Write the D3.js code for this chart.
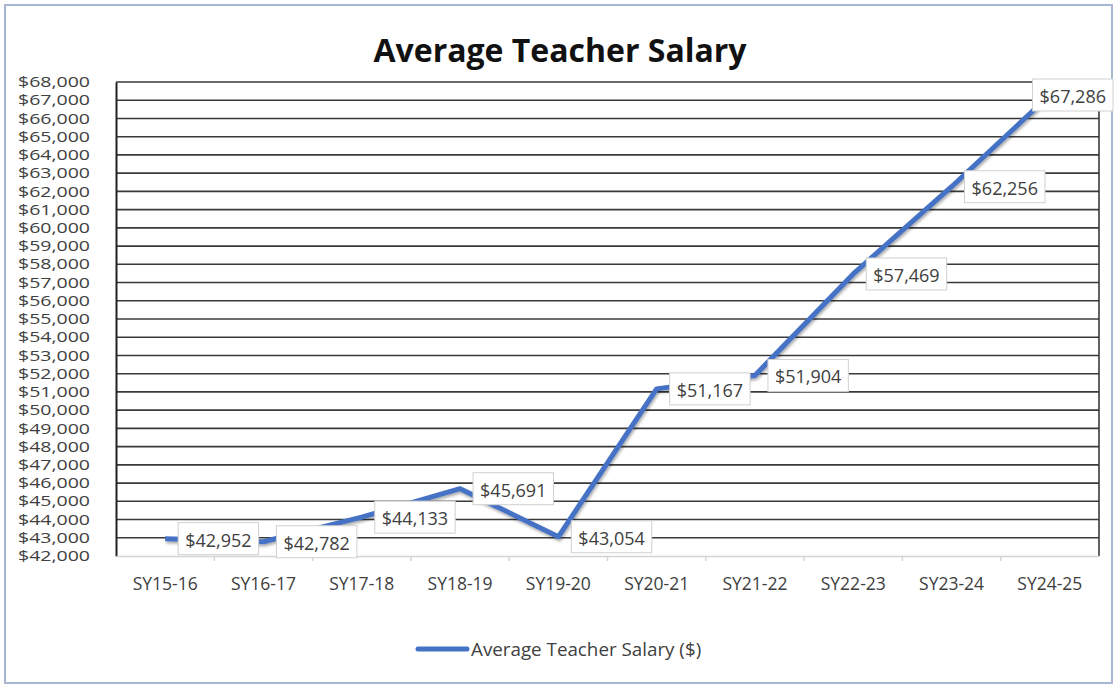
<!DOCTYPE html>
<html>
<head>
<meta charset="utf-8">
<script src="https://cdn.jsdelivr.net/npm/d3@7"></script>
<style>
  html, body { margin: 0; padding: 0; background: #fff; }
  svg { display: block; }
  text { font-family: "Open Sans", Lato, sans-serif; }
</style>
</head>
<body>
<svg id="chart" width="1118" height="689"></svg>
<script>
const title = "Average Teacher Salary";
const seriesName = "Average Teacher Salary ($)";
const categories = ["SY15-16","SY16-17","SY17-18","SY18-19","SY19-20","SY20-21","SY21-22","SY22-23","SY23-24","SY24-25"];
const salaries = [42952, 42782, 44133, 45691, 43054, 51167, 51904, 57469, 62256, 67286];
const yMin = 42000, yMax = 68000, yStep = 1000;

const W = 1118, H = 689;
const M = { left: 116, right: 1099, top: 82, bottom: 556 };
const svg = d3.select("#chart");

const defs = svg.append("defs");
const f = defs.append("filter").attr("id", "shadow").attr("x", "-10%").attr("y", "-10%").attr("width", "120%").attr("height", "130%");
f.append("feDropShadow").attr("dx", 1).attr("dy", 2).attr("stdDeviation", 1.5).attr("flood-color", "#000").attr("flood-opacity", 0.35);

// outer border
svg.append("rect").attr("x", 5).attr("y", 5).attr("width", W - 11).attr("height", H - 11)
  .attr("fill", "#fff").attr("stroke", "#a9b6d3").attr("stroke-width", 2);

// title
svg.append("text").attr("x", 560).attr("y", 62).attr("text-anchor", "middle")
  .attr("font-size", 32).attr("font-weight", "bold").attr("fill", "#111").text(title);

const x = d3.scaleBand().domain(categories).range([M.left, M.right]);
const y = d3.scaleLinear().domain([yMin, yMax]).range([M.bottom, M.top]);
const yTicks = d3.range(yMin, yMax + 1, yStep);
const fmt = v => "$" + d3.format(",")(v);

// gridlines
const grid = svg.append("g");
grid.selectAll("line").data(yTicks.filter(v => v > yMin)).join("line")
  .attr("x1", M.left).attr("x2", M.right)
  .attr("y1", d => y(d)).attr("y2", d => y(d))
  .attr("stroke", "#3a3a3a").attr("stroke-width", 1.6);
// right border
svg.append("line").attr("x1", M.right).attr("x2", M.right).attr("y1", M.top).attr("y2", M.bottom)
  .attr("stroke", "#3a3a3a").attr("stroke-width", 1.6);

// y axis
const yAxis = svg.append("g").attr("transform", `translate(${M.left},0)`)
  .call(d3.axisLeft(y).tickValues(yTicks).tickFormat(fmt).tickSize(0).tickPadding(26));
yAxis.select(".domain").attr("stroke", "#222").attr("stroke-width", 2);
yAxis.selectAll("text").attr("font-size", 14.5).attr("fill", "#404040")
  .attr("font-family", "'Open Sans', sans-serif")
  .attr("textLength", 72).attr("lengthAdjust", "spacingAndGlyphs");

// x axis
const xAxis = svg.append("g").attr("transform", `translate(0,${M.bottom})`)
  .call(d3.axisBottom(x).tickSize(0).tickPadding(22));
xAxis.select(".domain").attr("stroke", "#d4d4d4").attr("stroke-width", 1.5);
xAxis.selectAll("text").attr("font-size", 17.5).attr("fill", "#404040")
  .attr("font-family", "'Open Sans', sans-serif");
// x tick marks at band boundaries
svg.append("g").selectAll("line").data(categories.slice(1)).join("line")
  .attr("x1", d => x(d)).attr("x2", d => x(d))
  .attr("y1", M.bottom).attr("y2", M.bottom + 5)
  .attr("stroke", "#d4d4d4").attr("stroke-width", 1.5);

// line
const pts = categories.map((c, i) => ({ c, v: salaries[i] }));
const line = d3.line().x(d => x(d.c) + x.bandwidth() / 2).y(d => y(d.v));
svg.append("path").datum(pts).attr("d", line)
  .attr("fill", "none").attr("stroke", "#4472c4").attr("stroke-width", 5)
  .attr("stroke-linejoin", "round").attr("filter", "url(#shadow)");

// data labels
const lab = svg.append("g");
pts.forEach(d => {
  const px = x(d.c) + x.bandwidth() / 2, py = y(d.v);
  const g = lab.append("g");
  const t = g.append("text").attr("font-size", 18).attr("fill", "#404040")
    .attr("dominant-baseline", "central").text(fmt(d.v));
  const tw = t.node().getComputedTextLength();
  const bw = tw + 14, bh = 32;
  let bx = px + 13;
  if (bx + bw > W - 5) bx = W - 5 - bw;
  g.insert("rect", "text").attr("x", bx).attr("y", py - bh / 2).attr("width", bw).attr("height", bh)
    .attr("fill", "#fff").attr("stroke", "#d0d0d0").attr("stroke-width", 1);
  t.attr("x", bx + 7).attr("y", py + 1);
});

// legend
const lg = svg.append("g");
lg.append("line").attr("x1", 418).attr("x2", 467).attr("y1", 649).attr("y2", 649)
  .attr("stroke", "#4472c4").attr("stroke-width", 5).attr("stroke-linecap", "round");
lg.append("text").attr("x", 471).attr("y", 649).attr("dominant-baseline", "central")
  .attr("font-size", 18.8).attr("fill", "#404040").text(seriesName);
</script>
</body>
</html>
